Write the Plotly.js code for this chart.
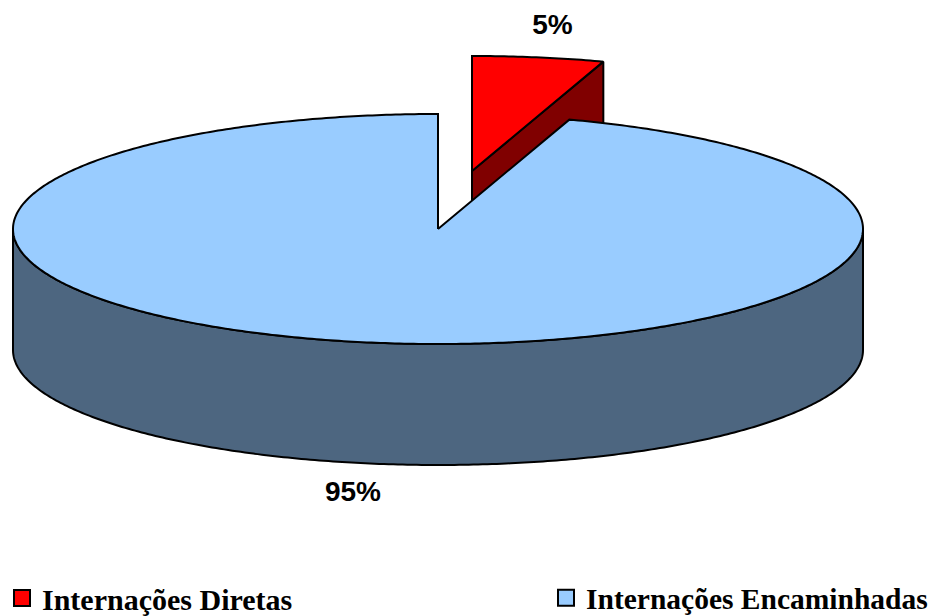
<!DOCTYPE html>
<html><head><meta charset="utf-8">
<script src="https://cdn.plot.ly/plotly-3.0.1.min.js"></script>
<style>html,body{margin:0;padding:0;background:#fff}#c{width:930px;height:616px}</style>
</head><body><div id="c"></div>
<script>
const categories = ["Internações Diretas", "Internações Encaminhadas"];
const shares = [5, 95];
const shareLabels = ["5%", "95%"];
const topColors = ["#FF0000", "#99CCFF"];
const sideColors = ["#800000", "#4D6680"];

// Projection of the tilted pie into the page
const cx = 438, cy = 229, rx = 425, ry = 115, depth = 121;
const explodeX = [34, 0], explodeY = [-58, 0];
const labelKX = [1.21, 1.28], labelKY = [1.27, 1.27];
const legendFontSizes = [30, 29.5];
const legendY = 598;

const total = shares.reduce((a, b) => a + b, 0);
const spans = []; let acc = 0;
shares.forEach(v => { const a0 = acc / total * 2 * Math.PI; acc += v; spans.push([a0, acc / total * 2 * Math.PI]); });
const px = (i, a) => cx + explodeX[i] + rx * Math.sin(a);
const py = (i, a, d) => cy + explodeY[i] - ry * Math.cos(a) + (d || 0);

function arc(i, a0, a1, d) {
  const n = Math.max(2, Math.ceil((a1 - a0) * 90)), xs = [], ys = [];
  for (let k = 0; k <= n; k++) { const a = a0 + (a1 - a0) * k / n; xs.push(px(i, a)); ys.push(py(i, a, d)); }
  return [xs, ys];
}
function poly(xs, ys, fill, name) {
  return {type:'scatter', mode:'lines', x:xs, y:ys, fill:'toself', fillcolor:fill,
          line:{color:'#000', width:2, simplify:false}, showlegend:false, hoverinfo:'skip', name:name};
}
function topFace(i) {
  const [xs, ys] = arc(i, spans[i][0], spans[i][1]);
  const ax = cx + explodeX[i], ay = cy + explodeY[i];
  return poly([ax, ...xs, ax], [ay, ...ys, ay], topColors[i], categories[i]);
}
function rimFace(i, a0, a1) {
  const [xs, ys] = arc(i, a0, a1), [xb, yb] = arc(i, a0, a1, depth);
  const X = [...xs, ...xb.reverse()], Y = [...ys, ...yb.reverse()];
  return poly([...X, X[0]], [...Y, Y[0]], sideColors[i], categories[i]);
}
function cutFace(i, a) {
  const ax = cx + explodeX[i], ay = cy + explodeY[i], ex = px(i, a), ey = py(i, a);
  return poly([ax, ex, ex, ax, ax], [ay, ey, ey + depth, ay + depth, ay], sideColors[i], categories[i]);
}

const traces = [
  cutFace(0, spans[0][1]),
  rimFace(1, Math.PI / 2, 3 * Math.PI / 2),
  topFace(1),
  topFace(0)
];

// Percent labels
const lx = [], ly = [];
shares.forEach((v, i) => {
  const m = (spans[i][0] + spans[i][1]) / 2, front = Math.cos(m) < 0;
  lx.push(cx + explodeX[i] + rx * Math.sin(m) * labelKX[i]);
  ly.push(cy + explodeY[i] - ry * Math.cos(m) * labelKY[i] + (front ? depth : 0));
});
traces.push({type:'scatter', mode:'text', x:lx, y:ly, text:shareLabels, textposition:'middle center',
  textfont:{family:'Liberation Sans', size:28, color:'#000', weight:700}, showlegend:false, hoverinfo:'skip'});

// Legend entries
categories.forEach((c, i) => traces.push({type:'scatter', mode:'markers', x:[null], y:[null], name:c,
  legend: i ? 'legend2' : 'legend',
  marker:{symbol:'square', size:16, color:topColors[i], line:{color:'#000', width:2}}}));

const legendBase = i => ({yanchor:'middle', xanchor:'left', y:(616-legendY)/616, bgcolor:'rgba(0,0,0,0)', borderwidth:0,
  itemsizing:'trace', itemclick:false, itemdoubleclick:false,
  font:{family:'Liberation Serif', size:legendFontSizes[i], color:'#000', weight:700}});

Plotly.newPlot('c', traces, {
  width:930, height:616, margin:{l:0,r:0,t:0,b:0,autoexpand:false}, paper_bgcolor:'#fff', plot_bgcolor:'#fff',
  xaxis:{range:[0,930], visible:false, fixedrange:true},
  yaxis:{range:[616,0], visible:false, fixedrange:true},
  legend:Object.assign({x:2/930}, legendBase(0)),
  legend2:Object.assign({x:546/930}, legendBase(1)),
  showlegend:true
}, {displayModeBar:false, staticPlot:true});
</script></body></html>
